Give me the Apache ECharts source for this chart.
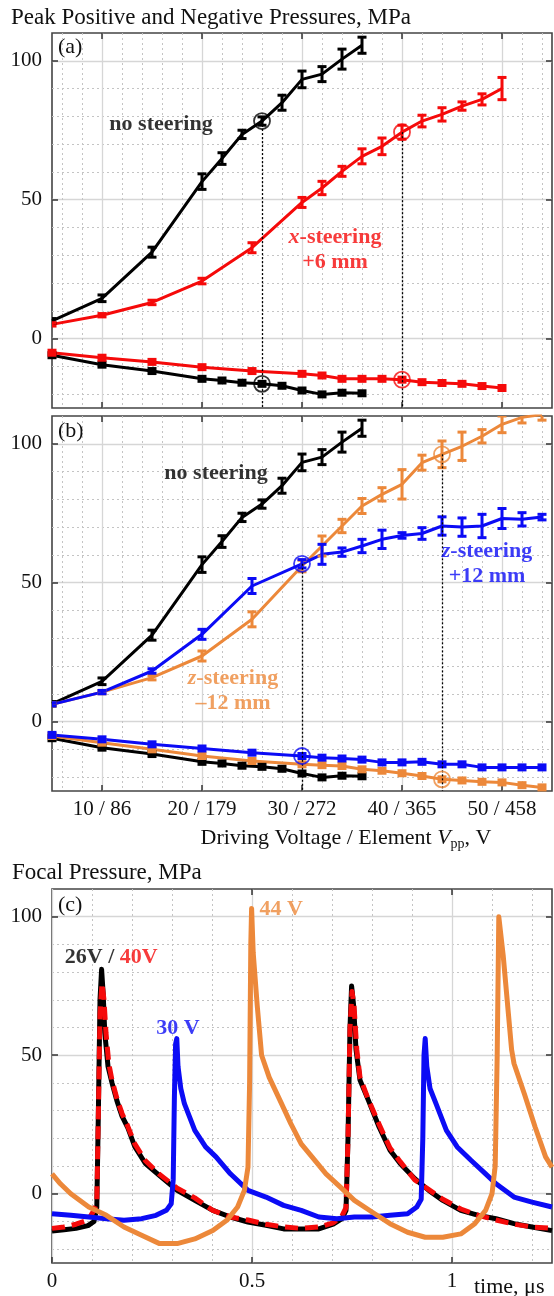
<!DOCTYPE html>
<html><head><meta charset="utf-8">
<script src="https://cdn.jsdelivr.net/npm/echarts@6/dist/echarts.min.js"></script>
<style>html,body{margin:0;padding:0;background:#fff}#c{width:554px;height:1296px}</style>
</head><body><div id="c"></div>
<script>
// ---------- tick positions / labels ----------
const vTicks = [10, 20, 30, 40, 50];
const vTickLabels = ['10 / 86', '20 / 179', '30 / 272', '40 / 365', '50 / 458'];
const vMinor = [6, 8, 12, 14, 16, 18, 22, 24, 26, 28, 32, 34, 36, 38, 42, 44, 46, 48, 52, 54];
const pTicks = [0, 50, 100];
const pMinor = [-20, -10, 10, 20, 30, 40, 60, 70, 80, 90];
const tTicks = [0, 0.5, 1];
const tTopTicks = [0.5, 1];
const tMinor = [0.1, 0.2, 0.3, 0.4, 0.6, 0.7, 0.8, 0.9, 1.1, 1.2];

// ---------- panel (a) / (b) data: driving voltage (V) ----------
const vBlack = [5, 10, 15, 20, 22, 24, 26, 28, 30, 32, 34, 36];
const blackPos = [6.4, 14.5, 31.1, 56.5, 64.8, 73.5, 78.3, 84.9, 93.3, 95.2, 100.6, 105.6];
const blackPosErr = [0.8, 1.2, 1.8, 2.8, 2.1, 1.5, 1.5, 2.7, 3.0, 2.7, 3.6, 2.9];
const blackNeg = [-6.0, -9.4, -11.7, -14.5, -15.1, -15.9, -16.3, -17.0, -18.7, -20.1, -19.5, -19.7];

const vRed = [5, 10, 15, 20, 25, 30, 32, 34, 36, 38, 40, 42, 44, 46, 48, 50];
const redPos = [5.1, 8.4, 13.0, 20.7, 32.7, 49.0, 54.2, 60.2, 65.6, 69.2, 74.3, 78.3, 80.7, 83.7, 86.1, 90.0];
const redPosErr = [0.6, 0.6, 0.8, 1.0, 1.8, 1.8, 2.4, 1.8, 2.7, 3.0, 2.5, 2.1, 2.4, 1.5, 2.0, 4.0];
const redNeg = [-5.1, -6.9, -8.4, -10.3, -11.7, -12.7, -13.3, -14.5, -14.5, -14.5, -14.8, -15.7, -16.0, -16.3, -17.1, -17.8];

const vZ = [5, 10, 15, 20, 25, 30, 32, 34, 36, 38, 40, 42, 44, 46, 48, 50, 52, 54];
const bluePos = [6.2, 10.6, 18.2, 31.4, 48.8, 56.8, 60.2, 61.0, 63.2, 65.6, 67.0, 67.7, 70.4, 70.0, 70.4, 73.1, 72.8, 73.6];
const bluePosErr = [0.6, 0.6, 0.8, 1.8, 2.7, 1.5, 3.6, 1.5, 2.4, 3.3, 1.0, 2.1, 3.3, 3.3, 4.2, 3.6, 2.4, 1.0];
const blueNeg = [-4.8, -6.4, -8.2, -9.7, -11.2, -12.4, -13.0, -13.3, -13.7, -14.7, -14.7, -14.5, -15.4, -15.4, -16.5, -16.5, -16.5, -16.5];
const orangePos = [6.2, 10.6, 15.8, 23.6, 36.8, 56.0, 63.2, 70.4, 77.6, 81.8, 85.4, 93.2, 96.2, 99.1, 102.7, 107.0, 109.5, 110.5];
const orangePosErr = [0.6, 0.6, 0.8, 1.8, 2.7, 2.1, 3.6, 2.4, 2.7, 2.4, 5.3, 2.7, 4.8, 5.1, 2.4, 3.0, 2.0, 2.0];
const orangeNeg = [-5.2, -7.6, -10.0, -12.4, -14.2, -15.4, -15.7, -16.0, -17.2, -17.7, -18.6, -19.6, -20.8, -21.2, -21.7, -21.9, -22.9, -23.7];

// highlighted (circled) points
const circA = { black: [[26, 78.3], [26, -16.3]], red: [[40, 74.3], [40, -14.8]] };
const circB = { blue: [[30, 56.8], [30, -12.4]], orange: [[44, 96.2], [44, -20.8]] };
const pMin = -25, pMax = 110;

// ---------- panel (c) data: focal waveforms [time us, MPa] ----------
const wave26 = [[0,-13.5],[0.03,-13],[0.06,-12.5],[0.09,-11.5],[0.105,-10],[0.112,-5],[0.116,30],[0.12,70],[0.124,81],[0.128,72],[0.132,58],[0.14,46],[0.15,40],[0.162,33.7],[0.175,28],[0.189,24],[0.207,17],[0.233,11],[0.269,6.5],[0.313,1.2],[0.357,-2.4],[0.402,-6],[0.446,-8.4],[0.49,-10.2],[0.535,-11.4],[0.579,-12.7],[0.623,-12.7],[0.667,-12.7],[0.703,-11],[0.725,-9],[0.735,-6],[0.74,20],[0.745,60],[0.749,75],[0.754,68],[0.76,52],[0.77,41],[0.791,33.7],[0.818,24],[0.845,15.7],[0.871,10.8],[0.907,5.4],[0.942,1.2],[0.977,-2.4],[1.022,-6],[1.066,-7.8],[1.11,-9],[1.155,-10.8],[1.2,-12],[1.25,-13.3]];
const wave40 = [[0,-12.5],[0.03,-12],[0.06,-11],[0.09,-9.5],[0.105,-6],[0.112,-3],[0.116,30],[0.12,65],[0.125,76],[0.13,70],[0.135,58],[0.142,47],[0.15,41],[0.162,34.5],[0.175,29],[0.189,24.5],[0.207,18],[0.233,12],[0.269,7],[0.313,2],[0.357,-1.5],[0.402,-6],[0.446,-8.4],[0.49,-9.5],[0.535,-11],[0.579,-12],[0.623,-12.5],[0.667,-12],[0.703,-10.5],[0.725,-8],[0.735,-5],[0.74,20],[0.745,60],[0.75,73],[0.755,68],[0.762,52],[0.77,42],[0.791,34],[0.818,25],[0.845,16.5],[0.871,11.5],[0.907,5],[0.942,1.5],[0.977,-2],[1.022,-5.5],[1.066,-7.8],[1.11,-9.5],[1.155,-11],[1.2,-12],[1.25,-12.5]];
const wave30 = [[0,-7.2],[0.047,-7.8],[0.092,-8.4],[0.136,-9],[0.18,-9.6],[0.224,-9],[0.26,-7.8],[0.286,-6],[0.298,-3.6],[0.303,5],[0.306,35],[0.309,54],[0.312,56],[0.315,46],[0.322,38],[0.331,32.5],[0.357,22.9],[0.384,16.9],[0.41,13.3],[0.446,7.2],[0.49,1.2],[0.535,-1.2],[0.579,-4.2],[0.623,-6],[0.667,-8.4],[0.712,-9],[0.756,-8.4],[0.8,-8.4],[0.845,-7.8],[0.889,-7.2],[0.912,-4.8],[0.923,-2],[0.927,20],[0.93,50],[0.933,56],[0.937,46],[0.945,38],[0.96,32.5],[0.986,22.9],[1.013,16.9],[1.048,12],[1.084,7.2],[1.11,3.6],[1.155,-1.2],[1.2,-3],[1.25,-4.8]];
const wave44 = [[0,7.2],[0.021,3.6],[0.047,0],[0.092,-4.8],[0.136,-7.8],[0.18,-12],[0.224,-15],[0.269,-18],[0.313,-18],[0.357,-16.3],[0.402,-13.3],[0.437,-9.6],[0.464,-4.8],[0.481,1.2],[0.49,9.6],[0.494,40],[0.497,90],[0.499,103],[0.503,87],[0.513,68],[0.524,50],[0.543,42],[0.57,33.7],[0.597,25.3],[0.623,18],[0.65,13.3],[0.685,7.2],[0.721,2.4],[0.756,-2.4],[0.8,-6.6],[0.845,-10.8],[0.889,-13.9],[0.933,-15.7],[0.977,-15.7],[1.022,-14.5],[1.057,-10.8],[1.084,-6],[1.1,0],[1.108,10],[1.113,50],[1.117,100],[1.12,100],[1.128,86],[1.141,65],[1.149,52],[1.155,47],[1.181,36],[1.208,24],[1.234,13.3],[1.25,9.6]];

// ---------- annotations (data coordinates) ----------
const annA = [[15.9, 77.1, 'no steering'], [33.3, 31.9, 'x-steering\n+6 mm']];
const annB = [[21.4, 89.3, 'no steering'], [48.5, 56.7, 'z-steering\n+12 mm'], [23.1, 10.9, 'z-steering\n\u201312 mm']];
const annC = [[0.148, 85.4, '26V / 40V'], [0.315, 59.7, '30 V'], [0.573, 102.7, '44 V']];

// ---------- styles ----------
const C = { black: '#000000', red: '#f50a0a', blue: '#0b0bf5', orange: '#ec883a' };
const SERIF = '"Liberation Serif", "DejaVu Serif", serif';
const tickStyle = { color: '#333', width: 1.5 };
const majorGrid = { color: '#d6d6d6', width: 1.3, type: 'solid' };
const minorGrid = { color: '#c4c4c4', width: 1, type: [2, 3] };

const grids = [
  { left: 52, top: 33, width: 500, height: 375 },
  { left: 52, top: 416, width: 500, height: 375 },
  { left: 52, top: 889, width: 500, height: 374 }
].map(g => Object.assign(g, { show: true, borderColor: '#444', borderWidth: 1.6, backgroundColor: '#fff', containLabel: false }));

const xAxes = [], yAxes = [];
const noLine = { show: false, onZero: false };
function addAxes(gi, xr, xMaj, xTop, xMin, xLab, xFmt) {
  xAxes.push({ type: 'value', gridIndex: gi, position: 'bottom', min: xr[0], max: xr[1],
    axisLine: noLine,
    axisTick: { show: true, inside: true, length: 6, lineStyle: tickStyle, customValues: xMaj },
    axisLabel: { show: xLab, customValues: xMaj, formatter: xFmt, margin: 8, color: '#111', fontFamily: SERIF, fontSize: 21 },
    splitLine: { show: true, lineStyle: majorGrid } });
  xAxes.push({ type: 'value', gridIndex: gi, position: 'top', min: xr[0], max: xr[1],
    axisLine: noLine,
    axisTick: { show: true, inside: true, length: 6, lineStyle: tickStyle, customValues: xTop },
    axisLabel: { show: false }, splitLine: { show: false } });
  xAxes.push({ type: 'value', gridIndex: gi, position: 'bottom', min: xr[0], max: xr[1],
    axisLine: noLine, axisTick: { show: false, customValues: xMin }, axisLabel: { show: false },
    splitLine: { show: true, lineStyle: minorGrid } });
  yAxes.push({ type: 'value', gridIndex: gi, position: 'left', min: pMin, max: pMax,
    axisLine: noLine,
    axisTick: { show: true, inside: true, length: 6, lineStyle: tickStyle, customValues: pTicks },
    axisLabel: { show: true, customValues: pTicks, margin: 10, color: '#111', fontFamily: SERIF, fontSize: 21 },
    splitLine: { show: true, lineStyle: majorGrid } });
  yAxes.push({ type: 'value', gridIndex: gi, position: 'right', min: pMin, max: pMax,
    axisLine: noLine,
    axisTick: { show: true, inside: true, length: 6, lineStyle: tickStyle, customValues: pTicks },
    axisLabel: { show: false }, splitLine: { show: false } });
  yAxes.push({ type: 'value', gridIndex: gi, position: 'left', min: pMin, max: pMax,
    axisLine: noLine, axisTick: { show: false, customValues: pMinor }, axisLabel: { show: false },
    splitLine: { show: true, lineStyle: minorGrid } });
}
addAxes(0, [5, 55], vTicks, vTicks, vMinor, false, null);
addAxes(1, [5, 55], vTicks, vTicks, vMinor, true, v => vTickLabels[vTicks.indexOf(v)]);
addAxes(2, [0, 1.25], tTicks, tTopTicks, tMinor, true, v => String(v));

const series = [];
const zipP = (xs, ys) => xs.map((x, i) => [x, ys[i]]);
const zipE = (xs, ys, es) => xs.map((x, i) => [x, ys[i], es[i]]);

function errBars(gi, xs, ys, es, color) {
  series.push({ type: 'custom', xAxisIndex: gi * 3, yAxisIndex: gi * 3, clip: true, z: 4,
    data: zipE(xs, ys, es), encode: { x: 0, y: 1 },
    renderItem: function (params, api) {
      const x = api.value(0), y = api.value(1), e = api.value(2);
      const t = api.coord([x, y + e]), b = api.coord([x, y - e]);
      const hw = 4.5, st = { stroke: color, lineWidth: 3 };
      return { type: 'group', children: [
        { type: 'line', shape: { x1: t[0], y1: t[1], x2: b[0], y2: b[1] }, style: st },
        { type: 'line', shape: { x1: t[0] - hw, y1: t[1], x2: t[0] + hw, y2: t[1] }, style: st },
        { type: 'line', shape: { x1: b[0] - hw, y1: b[1], x2: b[0] + hw, y2: b[1] }, style: st }
      ] };
    } });
}
function posLine(gi, xs, ys, es, color) {
  series.push({ type: 'line', xAxisIndex: gi * 3, yAxisIndex: gi * 3, data: zipP(xs, ys),
    symbol: 'none', lineStyle: { color: color, width: 3 }, z: 3, animation: false });
  errBars(gi, xs, ys, es, color);
}
function negLine(gi, xs, ys, color) {
  series.push({ type: 'line', xAxisIndex: gi * 3, yAxisIndex: gi * 3, data: zipP(xs, ys),
    symbol: 'rect', symbolSize: [9, 8], showSymbol: true, itemStyle: { color: color },
    lineStyle: { color: color, width: 3 }, z: 3, animation: false });
}
function circles(gi, pts, color) {
  series.push({ type: 'scatter', xAxisIndex: gi * 3, yAxisIndex: gi * 3, data: pts,
    symbol: 'circle', symbolSize: 16, z: 6,
    itemStyle: { color: 'rgba(0,0,0,0)', borderColor: color, borderWidth: 1.8 },
    markLine: { silent: true, symbol: 'none', label: { show: false },
      lineStyle: { color: '#000', type: [2, 2], width: 1.3 },
      data: [[{ coord: pts[0] }, { coord: [pts[0][0], pMin] }]] } });
}
function annot(gi, items, fmt) {
  const f = (c, it) => ({ color: c, fontFamily: SERIF, fontWeight: 'bold', fontStyle: it ? 'italic' : 'normal', fontSize: 22, lineHeight: 25 });
  series.push({ type: 'scatter', xAxisIndex: gi * 3, yAxisIndex: gi * 3, symbolSize: 0, z: 10, silent: true,
    data: items.map(a => ({ value: [a[0], a[1]], name: a[2] })),
    label: { show: true, position: 'inside', align: 'center', verticalAlign: 'middle',
      formatter: p => fmt(p.name),
      rich: { k: f(C.black), r: f(C.red), ri: f(C.red, 1), b: f(C.blue), bi: f(C.blue, 1), o: f(C.orange), oi: f(C.orange, 1) } } });
}

// panel (a)
negLine(0, vBlack, blackNeg, C.black);
negLine(0, vRed, redNeg, C.red);
posLine(0, vBlack, blackPos, blackPosErr, C.black);
posLine(0, vRed, redPos, redPosErr, C.red);
circles(0, circA.black, C.black);
circles(0, circA.red, C.red);
annot(0, annA, t => {
  if (t === annA[0][2]) return '{k|' + t + '}';
  const [l1, l2] = t.split('\n');
  return '{ri|' + l1[0] + '}{r|' + l1.slice(1) + '}\n{r|' + l2 + '}';
});

// panel (b)
negLine(1, vBlack, blackNeg, C.black);
negLine(1, vZ, orangeNeg, C.orange);
negLine(1, vZ, blueNeg, C.blue);
posLine(1, vBlack, blackPos, blackPosErr, C.black);
posLine(1, vZ, orangePos, orangePosErr, C.orange);
posLine(1, vZ, bluePos, bluePosErr, C.blue);
circles(1, circB.blue, C.blue);
circles(1, circB.orange, C.orange);
annot(1, annB, t => {
  if (t === annB[0][2]) return '{k|' + t + '}';
  const [l1, l2] = t.split('\n');
  const s = t === annB[1][2] ? 'b' : 'o';
  return '{' + s + 'i|' + l1[0] + '}{' + s + '|' + l1.slice(1) + '}\n{' + s + '|' + l2 + '}';
});

// panel (c)
function wave(data, color, dashed) {
  series.push({ type: 'line', xAxisIndex: 6, yAxisIndex: 6, data: data, symbol: 'none', z: 3, animation: false,
    lineStyle: { color: color, width: 5, type: dashed ? [13, 7] : 'solid', join: 'round', cap: 'butt' } });
}
wave(wave26, C.black, false);
wave(wave40, C.red, true);
wave(wave30, C.blue, false);
wave(wave44, C.orange, false);
annot(2, annC, t => {
  if (t === annC[0][2]) { const p = t.split(' / '); return '{k|' + p[0] + ' / }{r|' + p[1] + '}'; }
  if (t === annC[1][2]) return '{b|' + t + '}';
  return '{o|' + t + '}';
});

const txt = (x, y, text, size, extra) => ({ type: 'text', x: x, y: y, silent: true,
  style: Object.assign({ text: text, fill: '#111', font: size + 'px ' + SERIF, textVerticalAlign: 'middle' }, extra || {}) });

const option = {
  animation: false,
  backgroundColor: '#fff',
  grid: grids,
  xAxis: xAxes,
  yAxis: yAxes,
  series: series,
  graphic: [
    txt(11, 18, 'Peak Positive and Negative Pressures, MPa', 23),
    txt(58, 47, '(a)', 22),
    txt(58, 431, '(b)', 22),
    txt(12, 873, 'Focal Pressure, MPa', 23),
    txt(58, 905, '(c)', 22),
    { type: 'text', x: 346, y: 838, silent: true,
      style: { text: '{n|Driving Voltage / Element }{v|V}{s|pp}{n|, V}', textAlign: 'center', textVerticalAlign: 'middle',
        rich: {
          n: { fontFamily: SERIF, fontSize: 22, fill: '#111', lineHeight: 26 },
          v: { fontFamily: SERIF, fontSize: 22, fontStyle: 'italic', fill: '#111', lineHeight: 26 },
          s: { fontFamily: SERIF, fontSize: 14, fill: '#111', padding: [12, 0, 0, 0], lineHeight: 26 }
        } } },
    txt(474, 1287, 'time, \u03bcs', 22)
  ]
};
const chart = echarts.init(document.getElementById('c'), null, { renderer: 'canvas' });
chart.setOption(option);
</script></body></html>
